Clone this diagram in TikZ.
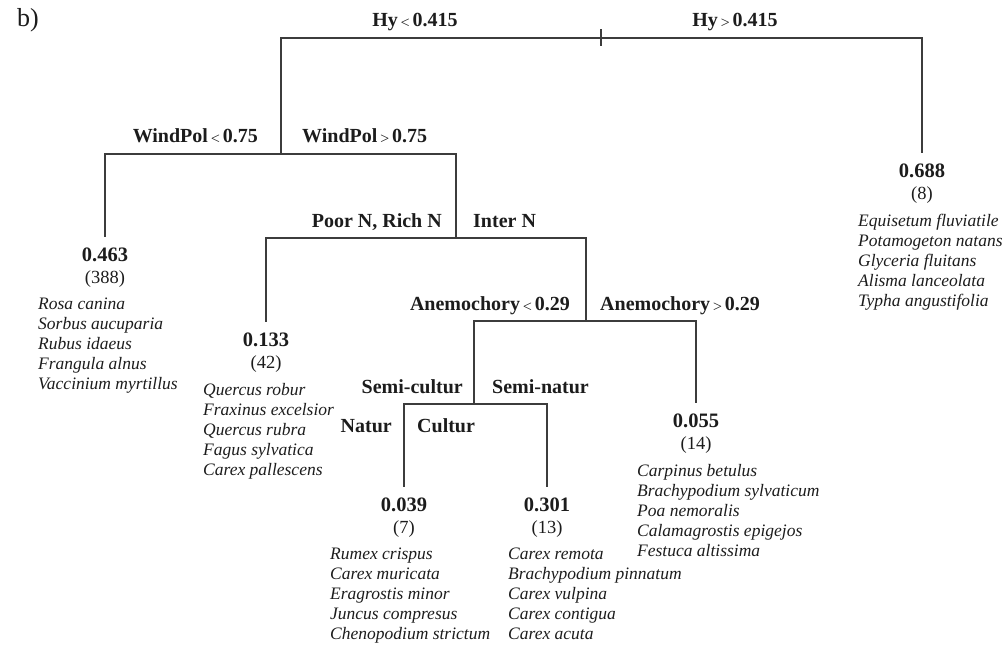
\documentclass[tikz,border=0pt]{standalone}
\usepackage{fontspec}
\setmainfont{Liberation Serif}
\usepackage{tikz}
\usetikzlibrary{positioning}
\definecolor{treeline}{RGB}{60,60,60}
\definecolor{treetext}{RGB}{28,28,28}
\newcommand{\cutlt}{\kern2.5pt\raisebox{1pt}{\fontsize{11}{11}\selectfont\boldmath$<$}\kern2.5pt}
\newcommand{\cutgt}{\kern2.5pt\raisebox{1pt}{\fontsize{11}{11}\selectfont\boldmath$>$}\kern2.5pt}

\begin{document}
\begin{tikzpicture}[
  x=1pt, y=-1pt,
  every node/.style={text=treetext},
  edge/.style={draw=treeline, line width=1.2pt},
  cut/.style={font=\fontsize{20}{22}\selectfont\bfseries, inner sep=0pt},
  leaf/.style={font=\fontsize{20.5}{21.5}\selectfont, align=center, anchor=north, inner sep=0pt, outer xsep=0pt, outer ysep=11pt},
  spp/.style={font=\fontsize{17.5}{20}\selectfont\itshape, align=left, anchor=north west, inner sep=0pt}
]
\useasboundingbox (0,0) rectangle (1002,645);
\node[font=\fontsize{26}{28}\selectfont, anchor=base west, inner sep=0pt] (panel) at (17,27) {b)};

% split points
\coordinate (hy) at (601,38);
\coordinate (wp) at (281,154);
\coordinate (nit) at (456,238);
\coordinate (ane) at (586,321);
\coordinate (sem) at (474,404);

% leaves
\node[leaf] (l688) at (922,153) {\textbf{0.688}\\\fontsize{18.5}{21.5}\selectfont(8)};
\node[leaf] (l463) at (105,237) {\textbf{0.463}\\\fontsize{18.5}{21.5}\selectfont(388)};
\node[leaf] (l133) at (266,322) {\textbf{0.133}\\\fontsize{18.5}{21.5}\selectfont(42)};
\node[leaf] (l055) at (696,403) {\textbf{0.055}\\\fontsize{18.5}{21.5}\selectfont(14)};
\node[leaf] (l039) at (404,487) {\textbf{0.039}\\\fontsize{18.5}{21.5}\selectfont(7)};
\node[leaf] (l301) at (547,487) {\textbf{0.301}\\\fontsize{18.5}{21.5}\selectfont(13)};

% tree
\draw[edge] (hy) -| (wp);
\draw[edge] (hy) -| (l688);
\draw[edge] (hy) ++(0,-9) -- ++(0,17);
\draw[edge] (wp) -| (l463);
\draw[edge] (wp) -| (nit);
\draw[edge] (nit) -| (l133);
\draw[edge] (nit) -| (ane);
\draw[edge] (ane) -| (sem);
\draw[edge] (ane) -| (l055);
\draw[edge] (sem) -| (l039);
\draw[edge] (sem) -| (l301);

% split labels
\node[cut, anchor=base] (hylo) at (415,26) {Hy\cutlt0.415};
\node[cut, anchor=base] (hyhi) at (735,26) {Hy\cutgt0.415};
\node[cut, anchor=base east] (wplo) at (258,142) {WindPol\cutlt0.75};
\node[cut, anchor=base west] (wphi) at (302,142) {WindPol\cutgt0.75};
\node[cut, anchor=base east] (nitlo) at (442,227) {Poor N, Rich N};
\node[cut, anchor=base west] (nithi) at (473,227) {Inter N};
\node[cut, anchor=base east] (anelo) at (570,310) {Anemochory\cutlt0.29};
\node[cut, anchor=base west] (anehi) at (600,310) {Anemochory\cutgt0.29};
\node[cut, anchor=base east] (semlo) at (463,393) {Semi-cultur};
\node[cut, anchor=base west] (semhi) at (492,393) {Semi-natur};
\node[cut, anchor=base east] (natlo) at (392,432) {Natur};
\node[cut, anchor=base west] (nathi) at (417,432) {Cultur};

% species
\node[spp] (s688) at (858,214) {Equisetum fluviatile\\Potamogeton natans\\Glyceria fluitans\\Alisma lanceolata\\Typha angustifolia};
\node[spp] (s463) at (38,298) {Rosa canina\\Sorbus aucuparia\\Rubus idaeus\\Frangula alnus\\Vaccinium myrtillus};
\node[spp] (s133) at (203,383) {Quercus robur\\Fraxinus excelsior\\Quercus rubra\\Fagus sylvatica\\Carex pallescens};
\node[spp] (s055) at (637,464) {Carpinus betulus\\Brachypodium sylvaticum\\Poa nemoralis\\Calamagrostis epigejos\\Festuca altissima};
\node[spp] (s039) at (330,548) {Rumex crispus\\Carex muricata\\Eragrostis minor\\Juncus compresus\\Chenopodium strictum};
\node[spp] (s301) at (508,548) {Carex remota\\Brachypodium pinnatum\\Carex vulpina\\Carex contigua\\Carex acuta};
\end{tikzpicture}
\end{document}
